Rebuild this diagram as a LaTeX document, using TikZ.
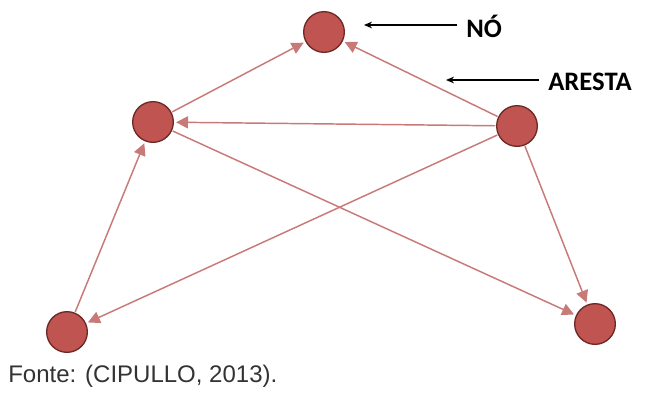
\documentclass[tikz,border=0pt]{standalone}
\usepackage{fontspec}
\setmainfont{Liberation Sans}
\newfontfamily\labelfont{Carlito}
\usetikzlibrary{arrows.meta}

\definecolor{nodered}{RGB}{192,84,80}
\definecolor{edgered}{RGB}{200,122,120}
\definecolor{rimred}{RGB}{110,40,38}

\begin{document}
\begin{tikzpicture}[x=0.75pt, y=-0.75pt,
	vertice/.style={circle, draw=rimred, fill=nodered, line width=1pt, minimum size=30.5pt, inner sep=0pt},
	aresta/.style={draw=edgered, line width=1.1pt, -{Triangle[length=9pt, width=9pt]}, shorten >=1.5pt, shorten <=0.5pt},
	rotulo/.style={font=\labelfont\bfseries\fontsize{20}{24}\selectfont, anchor=west, inner sep=0pt}]
	\useasboundingbox (0,0) rectangle (646,400);

	\node[vertice] at (324, 32) (topo) {};
	\node[vertice] at (153, 122) (esq) {};
	\node[vertice] at (517, 126) (dir) {};
	\node[vertice] at (67, 332) (infesq) {};
	\node[vertice] at (595, 324) (infdir) {};

	% arestas
	\draw[aresta] (esq) -- (topo);
	\draw[aresta] (dir) -- (topo);
	\draw[aresta] (dir) -- (esq);
	\draw[aresta] (dir) -- (infesq);
	\draw[aresta] (esq) -- (infdir);
	\draw[aresta] (dir) -- (infdir);
	\draw[aresta] (infesq) -- (esq);

	% rotulos
	\node[rotulo] at (466, 26) (no) {NÓ};
	\node[rotulo] at (548, 82) (ar) {ARESTA};
	\coordinate (pno) at (364, 25);
	\coordinate (par) at (446, 80);
	\draw[-{Stealth[length=6pt, width=5pt]}, line width=1pt] (457, 25) -- (pno);
	\draw[-{Stealth[length=6pt, width=5pt]}, line width=1pt] (539, 80) -- (par);

	\node[anchor=west, inner sep=0pt, font=\fontsize{18}{20}\selectfont, text=black!80] at (8, 376) (fonte) {Fonte: (CIPULLO, 2013).};
\end{tikzpicture}
\end{document}
